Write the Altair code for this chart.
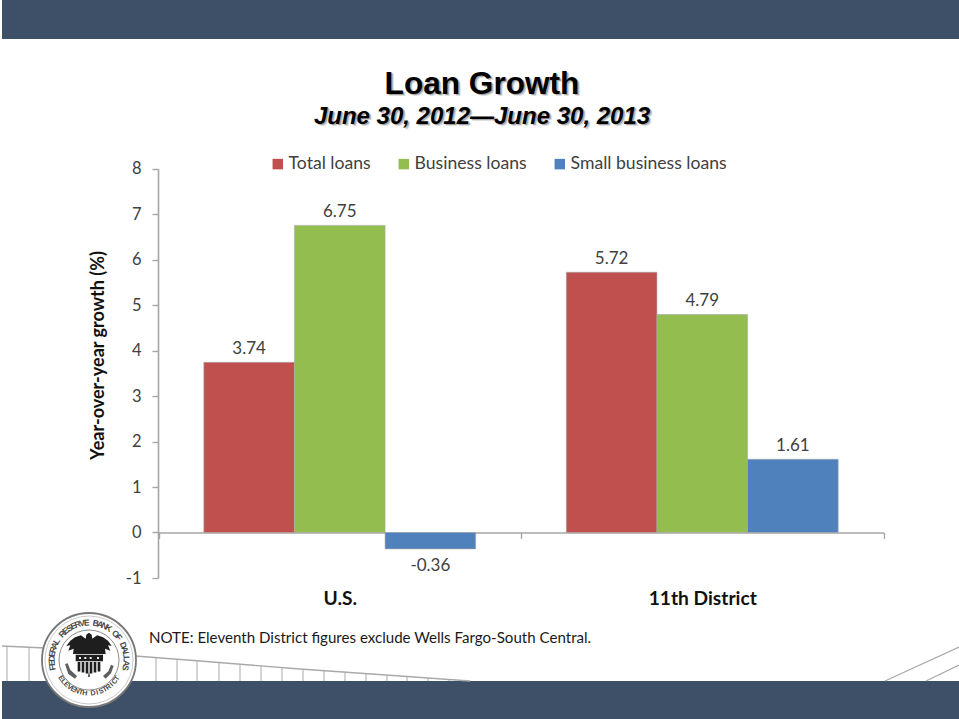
import math
import altair as alt
import pandas as pd

# Chart values
regions = ["U.S.", "11th District"]
series = ["Total loans", "Business loans", "Small business loans"]
us_values = [3.74, 6.75, -0.36]
district_values = [5.72, 4.79, 1.61]
colors = ["#C0504D", "#94BD50", "#4F81BD"]
y_ticks = [-1, 0, 1, 2, 3, 4, 5, 6, 7, 8]

title_text = "Loan Growth"
subtitle_text = "June 30, 2012\u2014June 30, 2013"
note_text = "NOTE: Eleventh District figures exclude Wells Fargo-South Central."
seal_top = "FEDERAL RESERVE BANK OF DALLAS"
seal_bottom = "ELEVENTH DISTRICT"

W, H = 959, 719
SLATE = "#3D5068"
RAIL = "#A9A9A9"
AXIS = "#A6A6A6"
INK = "#404040"

rows = []
for region, vals in zip(regions, [us_values, district_values]):
    for name, v in zip(series, vals):
        rows.append({"region": region, "series": name, "value": v, "label": f"{v:.2f}"})
bars_df = pd.DataFrame(rows)

x_scale = alt.Scale(domain=regions, range=[158.5, 883.5], paddingInner=0, paddingOuter=0)
y_scale = alt.Scale(domain=[-1, 8], range=[578, 168.5], nice=False, zero=False)
offset_scale = alt.Scale(type="band", domain=series, paddingOuter=0.5, paddingInner=0)
color_scale = alt.Scale(domain=series, range=colors)
PX = dict(scale=None, axis=None)


def px_x(field):
    return alt.X(f"{field}:Q", **PX)


def px_y(field):
    return alt.Y(f"{field}:Q", **PX)


# Slide furniture: header band, footer band, railing and roof lines
bands = (
    alt.Chart(pd.DataFrame({"x": [2, 2], "x2": [W, W], "y": [0, 681], "y2": [39, H]}))
    .mark_rect(color=SLATE)
    .encode(x=px_x("x"), x2="x2:Q", y=px_y("y"), y2="y2:Q")
)

rail_x = [2, 45, 135, 200, 300, 400, 470]
rail_y = [646, 648, 656, 661, 669, 676, 681]
rail = (
    alt.Chart(pd.DataFrame({"x": rail_x, "y": rail_y}))
    .mark_line(color=RAIL, strokeWidth=1.3)
    .encode(x=px_x("x"), y=px_y("y"), order="x:Q")
)
post_x = [7, 29, 156, 177, 197, 219, 240, 261, 282, 303, 324, 345, 366, 387, 407, 428, 449]
post_top = [646, 647, 657.5, 659, 660.5, 662.5, 664, 665.5, 667, 669, 670.5, 672, 673.5, 675.5, 676.5, 678, 679.5]
posts = (
    alt.Chart(pd.DataFrame({"x": post_x, "y": post_top, "y2": [681] * len(post_x)}))
    .mark_rule(color=RAIL, strokeWidth=1)
    .encode(x=px_x("x"), y=px_y("y"), y2="y2:Q")
)
roof = (
    alt.Chart(pd.DataFrame({"x": [885, 926], "x2": [W, W], "y": [681, 681], "y2": [647, 665]}))
    .mark_rule(color=RAIL, strokeWidth=1.3)
    .encode(x=px_x("x"), x2="x2:Q", y=px_y("y"), y2="y2:Q")
)

# Reserve bank seal: rings, emblem and lettering around the rim
CX, CY = 89, 660


def ring(diameter, fill, stroke, width):
    return (
        alt.Chart(pd.DataFrame({"x": [CX], "y": [CY]}))
        .mark_point(shape="circle", size=diameter ** 2, filled=False, fill=fill, fillOpacity=1,
                    stroke=stroke, strokeWidth=width, opacity=1)
        .encode(x=px_x("x"), y=px_y("y"))
    )


def emblem_path(polys, half):
    parts = []
    for poly in polys:
        pts = [f"{(px - 148) / 3 / half:.3f},{(py - 150) / 3 / half:.3f}" for px, py in poly]
        parts.append("M" + "L".join(pts) + "Z")
    return "".join(parts)


wings = [
    (148, 68), (156, 74), (158, 86), (172, 76), (190, 82), (205, 92), (216, 108),
    (205, 106), (212, 122), (196, 116), (198, 132), (100, 132), (102, 116), (86, 122),
    (92, 106), (80, 108), (92, 92), (106, 82), (124, 76), (138, 86), (140, 74),
]
band = [(108, 134), (190, 134), (190, 154), (108, 154)]
stripes = [
    [(x, 156), (x + 8, 156), (x + 8, 192 + abs(x - 145) * -0.25), (x, 192 + abs(x - 145) * -0.25)]
    for x in (114, 126, 138, 150, 162, 174)
]
lower = [[(148, 186), (151, 200), (145, 200)]]
emblem_dark = emblem_path([wings, band] + stripes + lower, 30)

wreath_left = [(76, 162), (84, 160), (92, 180), (112, 198), (106, 206), (86, 192)]
wreath_right = [(222, 168), (214, 164), (206, 184), (190, 198), (198, 206), (214, 190)]
emblem_grey = emblem_path([wreath_left, wreath_right], 30)

band_dots = [[(x, 141), (x + 6, 141), (x + 6, 147), (x, 147)] for x in (118, 134, 150, 172)]
emblem_light = emblem_path(band_dots, 30)


def emblem(path, fill):
    return (
        alt.Chart(pd.DataFrame({"x": [CX], "y": [CY]}))
        .mark_point(shape=path, size=3600, filled=True, fill=fill, fillOpacity=1, opacity=1, strokeWidth=0)
        .encode(x=px_x("x"), y=px_y("y"))
    )


def rim_letters(text, radius, start, stop, upright_at_bottom=False):
    out = []
    n = len(text)
    for i, ch in enumerate(text):
        deg = start + (stop - start) * i / (n - 1)
        a = math.radians(deg)
        out.append({
            "ch": ch,
            "x": CX + radius * math.sin(a),
            "y": CY - radius * math.cos(a),
            "angle": ((180 + deg) if upright_at_bottom else deg) % 360,
        })
    return pd.DataFrame(out)


def rim_text(df, size):
    return (
        alt.Chart(df)
        .mark_text(font="Liberation Sans", fontSize=size, fontWeight="bold", color="#4A4A4A",
                   baseline="middle", align="center")
        .encode(x=px_x("x"), y=px_y("y"), text="ch:N", angle=alt.Angle("angle:Q", scale=None))
    )


seal = [
    ring(94, "#FFFFFF", "#777777", 1.8),
    ring(88, "#FFFFFF", "#BDBDBD", 0.8),
    rim_text(rim_letters(seal_top, 37.5, -102, 102), 8.6),
    rim_text(rim_letters(seal_bottom, 33.5, 237, 123, True), 7.2),
    ring(60, "#FFFFFF", "#8A8A8A", 1),
    emblem(emblem_grey, "#5E5E5E"),
    emblem(emblem_dark, "#1E1E1E"),
    emblem(emblem_light, "#F0F0F0"),
]


# Headline text with a soft drop shadow
def headline(text, x, y, size, italic=False):
    style = dict(font="Liberation Sans", fontSize=size, fontWeight="bold", align="center", baseline="middle")
    if italic:
        style["fontStyle"] = "italic"
    out = []
    for dx, dy, col, op in [(2.5, 2.5, "#000000", 0.12), (1.5, 1.5, "#000000", 0.25), (0, 0, "#000000", 1)]:
        out.append(
            alt.Chart(pd.DataFrame({"x": [x + dx], "y": [y + dy], "t": [text]}))
            .mark_text(color=col, opacity=op, **style)
            .encode(x=px_x("x"), y=px_y("y"), text="t:N")
        )
    return out


note = (
    alt.Chart(pd.DataFrame({"x": [149], "y": [637.5], "t": [note_text]}))
    .mark_text(font="Lato", fontSize=15.1, color="#1A1A1A", align="left", baseline="middle")
    .encode(x=px_x("x"), y=px_y("y"), text="t:N")
)

# Grouped bars with the value and region axes
bars = (
    alt.Chart(bars_df)
    .mark_bar(stroke="#A8A8A8", strokeWidth=0.6)
    .encode(
        x=alt.X(
            "region:N", scale=x_scale, sort=regions, title=None,
            axis=alt.Axis(
                orient="bottom", offset=532.5 - H, labelAngle=0, labelFont="Lato", labelFontSize=19.2,
                labelFontWeight="bold", labelColor="#111111", labelPadding=51, domainColor=AXIS,
                domainWidth=1.6, tickColor=AXIS, tickWidth=1.4, tickSize=6, tickBand="extent",
                grid=False,
            ),
        ),
        xOffset=alt.XOffset("series:N", scale=offset_scale, sort=series),
        y=alt.Y(
            "value:Q", scale=y_scale, stack=None, title="Year-over-year growth (%)",
            axis=alt.Axis(
                orient="left", offset=-158, values=y_ticks, labelExpr="toString(datum.value)",
                labelFont="Lato", labelFontSize=16.5, labelColor=INK, labelPadding=11,
                domainColor=AXIS, domainWidth=1.6, tickColor=AXIS, tickWidth=1.4, tickSize=6, grid=False,
                titleFont="Lato", titleFontSize=18, titleFontWeight="bold", titleColor="#111111",
                titlePadding=18, titleY=355,
            ),
        ),
        color=alt.Color(
            "series:N", scale=color_scale, sort=series, title=None,
            legend=alt.Legend(
                orient="none", legendX=269, legendY=155, direction="horizontal", columns=3,
                symbolType="square", symbolSize=110, symbolStrokeWidth=0, labelFont="Lato",
                labelFontSize=17.6, labelColor=INK, labelOffset=2, columnPadding=24, padding=0,
            ),
        ),
    )
)


def value_labels(condition, shift):
    return (
        alt.Chart(bars_df)
        .transform_filter(condition)
        .mark_text(font="Lato", fontSize=17, color=INK, baseline="middle", align="center", dy=shift)
        .encode(
            x=alt.X("region:N", scale=x_scale, sort=regions, axis=None),
            xOffset=alt.XOffset("series:N", scale=offset_scale, sort=series),
            y=alt.Y("value:Q", scale=y_scale, stack=None, axis=None),
            text="label:N",
        )
    )


layers = (
    [bands, rail, posts, roof]
    + seal
    + headline(title_text, 482, 84.5, 31.6)
    + headline(subtitle_text, 482, 116.5, 24, italic=True)
    + [bars, value_labels("datum.value >= 0", -13.5), value_labels("datum.value < 0", 17), note]
)

chart = (
    alt.layer(*layers)
    .resolve_scale(x="independent", y="independent", xOffset="independent", color="independent")
    .resolve_axis(x="independent", y="independent")
    .properties(width=W, height=H, padding=0, autosize=alt.AutoSizeParams(type="none"), background="#FFFFFF")
    .configure_view(stroke=None)
)

chart.save("out.html", embed_options={"renderer": "svg", "actions": False})
